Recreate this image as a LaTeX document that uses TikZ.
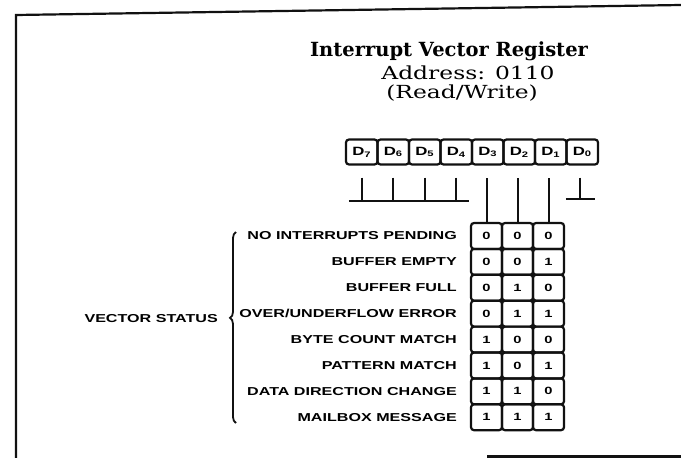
\documentclass[tikz,border=0pt]{standalone}
\usepackage{fontspec}
\setmainfont{DejaVu Serif}
\newfontfamily\headfont[FakeStretch=1.3]{DejaVu Serif}
\newfontfamily\capsfont[FakeStretch=1.4]{Liberation Sans}
\usetikzlibrary{decorations.pathreplacing}

\begin{document}
\begin{tikzpicture}[x=1pt,y=-1pt]

\definecolor{regink}{HTML}{111111}

\tikzset{
  regbox/.style={
    draw=regink, line width=2.2pt, rounded corners=3pt,
    minimum width=31.5pt, minimum height=25pt, inner sep=0pt,
    font=\capsfont\bfseries\fontsize{12}{12}\selectfont
  },
  bitcell/.style={
    draw=regink, line width=2.2pt, rounded corners=3pt,
    minimum width=31pt, minimum height=25.9pt, inner sep=0pt,
    font=\capsfont\bfseries\fontsize{10.5}{10.5}\selectfont
  },
  status/.style={
    anchor=east, inner sep=0pt,
    font=\capsfont\bfseries\fontsize{11.5}{11.5}\selectfont
  },
  bitline/.style={draw=regink, line width=2pt},
  frameline/.style={draw=regink, line width=2.2pt}
}

\useasboundingbox (0,0) rectangle (681,458);

% Page frame (open on the right).
\draw[frameline] (681,5) -- (16,15) -- (16,458);
\draw[frameline] (487,456.5) -- (681,456.5);

% Heading.
\node[font=\bfseries\fontsize{19.5}{19.5}\selectfont] (title) at (449,51)
  {Interrupt Vector Register};
\node[font=\headfont\fontsize{18}{18}\selectfont] (addr) at (468,73)
  {Address: 0110};
\node[font=\headfont\fontsize{18}{18}\selectfont] (rw) at (462,93)
  {(Read/Write)};

% Register bits D7..D0.
\foreach \i/\x in {7/361.75,6/393.25,5/424.75,4/456.25,
                   3/487.75,2/519.25,1/550.75,0/582.25}
  \node[regbox] (d\i) at (\x,152) {D\textsubscript{\i}};

% Unused bits.
\foreach \i in {7,6,5,4}
  \draw[bitline] ([yshift=-12pt]d\i.south) -- ++(0,23);
\draw[bitline] ([xshift=4pt,yshift=-35pt]d7.south west) --
  ([xshift=-4pt,yshift=-35pt]d4.south east);
\draw[bitline] ([xshift=-2pt,yshift=-12pt]d0.south) -- ++(0,21.5);
\draw[bitline] ([xshift=-16.5pt,yshift=-33.5pt]d0.south) -- ++(29,0);

% Status code table.
\foreach \a/\b/\c [count=\r] in {0/0/0,0/0/1,0/1/0,0/1/1,
                                 1/0/0,1/0/1,1/1/0,1/1/1} {
  \node[bitcell] (c\r1) at (486.5,{210.05+25.9*\r}) {\a};
  \node[bitcell] (c\r2) at (517.5,{210.05+25.9*\r}) {\b};
  \node[bitcell] (c\r3) at (548.5,{210.05+25.9*\r}) {\c};
}

\foreach \txt [count=\r] in {NO INTERRUPTS PENDING, BUFFER EMPTY,
    BUFFER FULL, OVER/UNDERFLOW ERROR, BYTE COUNT MATCH,
    PATTERN MATCH, DATA DIRECTION CHANGE, MAILBOX MESSAGE}
  \node[status] (s\r) at (457,{210.05+25.9*\r}) {\txt};

% D3..D1 feed the table columns.
\draw[bitline, shorten >=12pt] (c11.north) -- (c11.north |- d3.south);
\draw[bitline, shorten >=12pt] (c12.north) -- (c12.north |- d2.south);
\draw[bitline, shorten >=12pt] (c13.north) -- (c13.north |- d1.south);

% Brace and its label.
\draw[regink, line width=1.8pt, decorate,
  decoration={brace, amplitude=6pt, aspect=0.55}] (236,423) -- (236,232);
\node[status] (vs) at (218,319) {VECTOR STATUS};

\end{tikzpicture}
\end{document}
